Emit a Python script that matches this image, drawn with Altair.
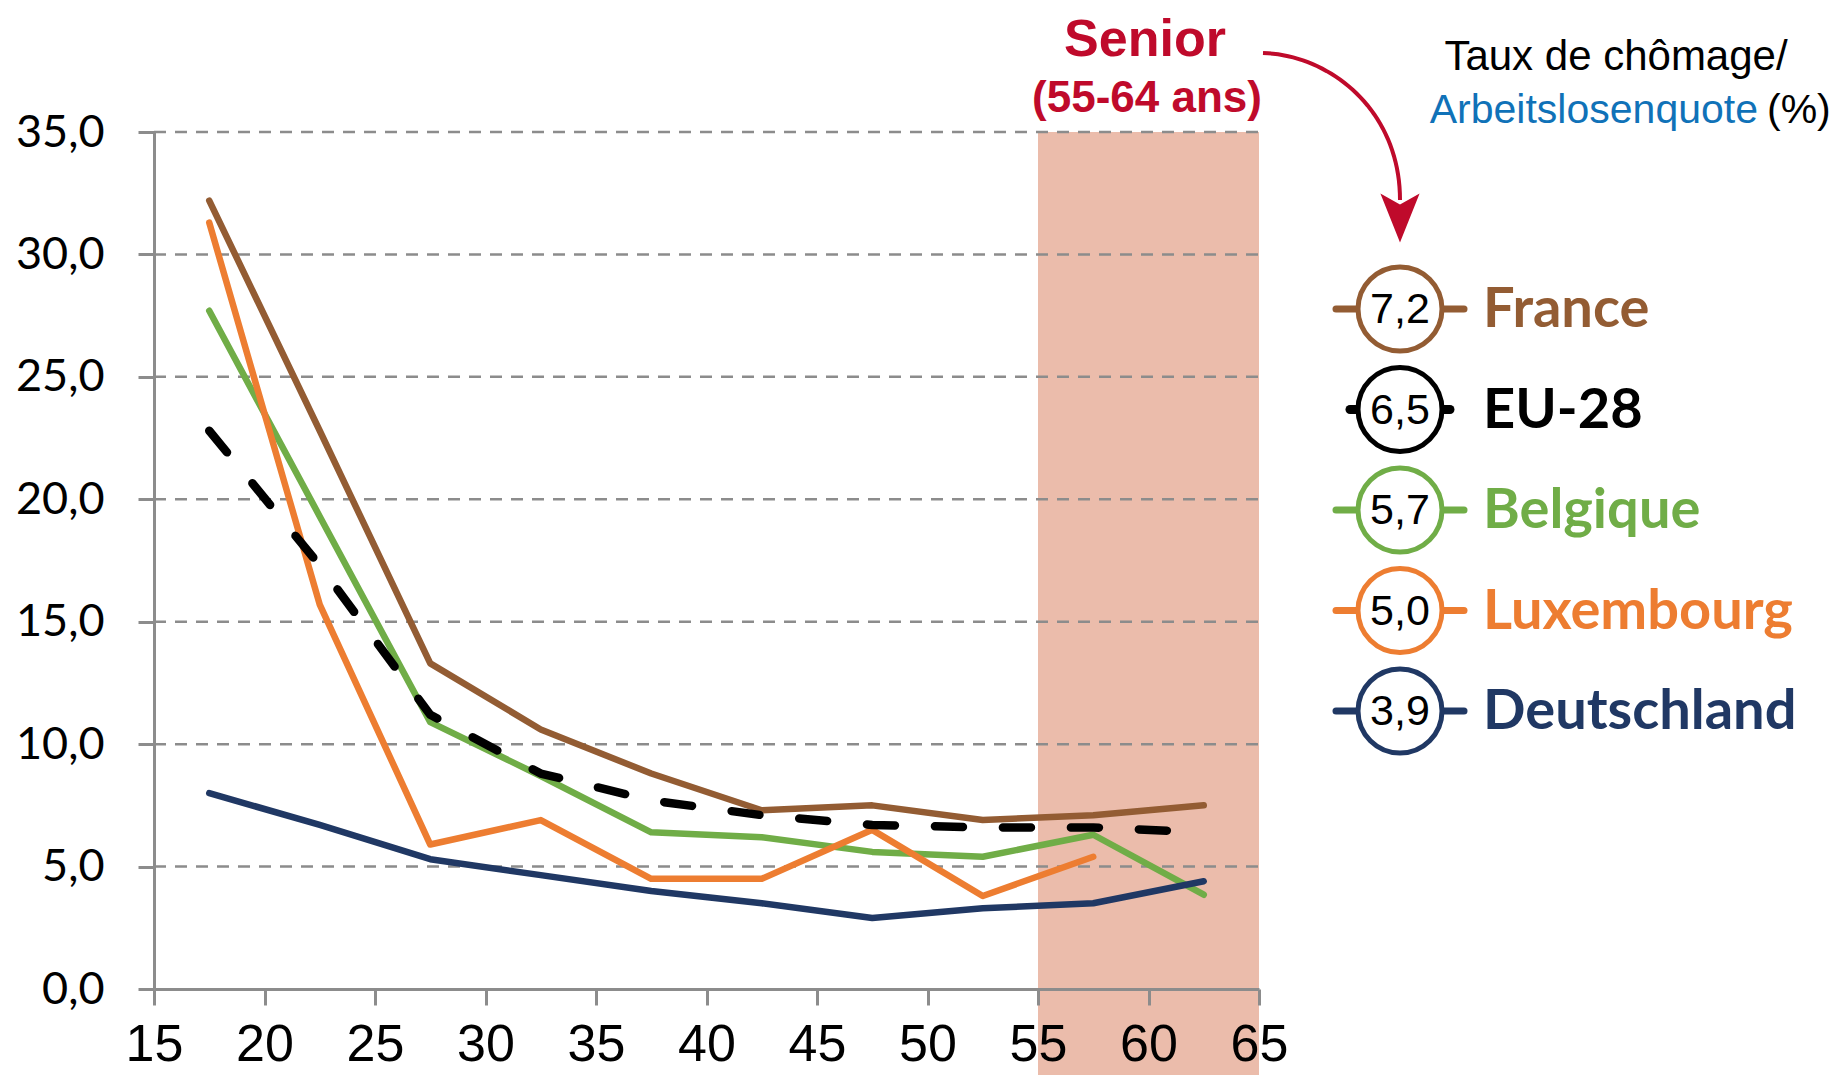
import altair as alt
import pandas as pd

# ---------------- data ----------------
ages = [17.5, 22.5, 27.5, 32.5, 37.5, 42.5, 47.5, 52.5, 57.5, 62.5]
france = [32.2, 22.8, 13.3, 10.6, 8.8, 7.3, 7.5, 6.9, 7.1, 7.5]
eu28 = [22.8, 17.3, 11.2, 8.8, 7.7, 7.1, 6.7, 6.6, 6.6, 6.4]
belgique = [27.7, 19.3, 10.9, 8.7, 6.4, 6.2, 5.6, 5.4, 6.3, 3.85]
luxembourg = [31.3, 15.7, 5.9, 6.9, 4.5, 4.5, 6.5, 3.8, 5.4, None]
deutschland = [8.0, 6.7, 5.3, 4.65, 4.0, 3.5, 2.9, 3.3, 3.5, 4.4]

series_names = ["France", "EU-28", "Belgique", "Luxembourg", "Deutschland"]
senior_values = ["7,2", "6,5", "5,7", "5,0", "3,9"]
series_colors = ["#935C33", "#000000", "#70AD47", "#ED7D31", "#203864"]

x_ticks = [15, 20, 25, 30, 35, 40, 45, 50, 55, 60, 65]
y_ticks = [0, 5, 10, 15, 20, 25, 30, 35]
grid_vals = [5, 10, 15, 20, 25, 30, 35]
senior_band = [55, 65]

# ---------------- layout constants ----------------
W, H = 1105, 857
XMIN, XMAX, YMIN, YMAX = 15, 65, 0, 35
SANS = "Liberation Sans, Arial, sans-serif"
RED = "#BF0A2B"
BLUE = "#1072B8"
GREY = "#8C8C8C"

xs = alt.Scale(domain=[XMIN, XMAX], nice=False, zero=False)
ys = alt.Scale(domain=[YMIN, YMAX], nice=False)

xa = alt.Axis(values=x_ticks, title=None, grid=False, labelFont=SANS, labelFontSize=52,
              labelColor="#000000", tickColor=GREY, tickWidth=3, tickSize=16,
              domainColor=GREY, domainWidth=3, labelPadding=14, labelFlush=False,
              labelOverlap=False, zindex=1)
ya = alt.Axis(values=y_ticks, title=None, grid=False, labelFont="Lato", labelFontSize=45,
              labelColor="#000000", tickColor=GREY, tickWidth=3, tickSize=16,
              domainColor=GREY, domainWidth=3, labelPadding=34, labelOverlap=False,
              labelExpr="replace(format(datum.value, '.1f'), '.', ',')", zindex=1)

# shaded senior band
band = alt.Chart(pd.DataFrame({"a": [senior_band[0]], "b": [senior_band[1]], "top": [YMAX]})).mark_rect(
    color="#EBBCAB", clip=False
).encode(
    x=alt.X("a:Q", scale=xs, axis=xa),
    x2="b:Q",
    y=alt.Y("top:Q", scale=ys, axis=ya),
    y2=alt.value(960),
)

# dashed grid lines
grid = alt.Chart(pd.DataFrame({"g": grid_vals, "x0": [XMIN] * len(grid_vals), "x1": [XMAX] * len(grid_vals)})).mark_rule(
    color=GREY, strokeWidth=2.5, strokeDash=[12, 9]
).encode(
    y=alt.Y("g:Q", scale=ys, axis=ya),
    x=alt.X("x0:Q", scale=xs, axis=xa),
    x2="x1:Q",
)

def line_layer(vals, color, dashed=False):
    df = pd.DataFrame({"age": ages, "v": vals}).dropna()
    kw = dict(color=color, strokeWidth=6.5, strokeCap="round", strokeJoin="round")
    if dashed:
        kw.update(strokeWidth=8.5, strokeDash=[28, 40])
    return alt.Chart(df).mark_line(**kw).encode(
        x=alt.X("age:Q", scale=xs, axis=xa),
        y=alt.Y("v:Q", scale=ys, axis=ya),
        order="age:Q",
    )

lines = [
    line_layer(france, series_colors[0]),
    line_layer(belgique, series_colors[2]),
    line_layer(luxembourg, series_colors[3]),
    line_layer(deutschland, series_colors[4]),
    line_layer(eu28, series_colors[1], dashed=True),
]

one = pd.DataFrame({"k": [0]})

# ---------------- legend (annotation) ----------------
CX = 1246
ROW0 = 177
ROWSTEP = 100.5
legend_layers = []
for i, (nm, val, col) in enumerate(zip(series_names, senior_values, series_colors)):
    ry = ROW0 + i * ROWSTEP
    if nm == "EU-28":
        stub = alt.Chart(one).mark_rule(color=col, strokeWidth=9, strokeCap="round").encode(
            x=alt.value(CX - 50), x2=alt.value(CX + 50), y=alt.value(ry))
    else:
        stub = alt.Chart(one).mark_rule(color=col, strokeWidth=7, strokeCap="round").encode(
            x=alt.value(CX - 64), x2=alt.value(CX + 64), y=alt.value(ry))
    circ = alt.Chart(one).mark_point(
        shape="circle", filled=True, fill="white", stroke=col, strokeWidth=5, size=7056, opacity=1
    ).encode(x=alt.value(CX), y=alt.value(ry))
    num = alt.Chart(one).mark_text(
        text=val, font=SANS, fontSize=43, color="#000000", align="center", baseline="alphabetic"
    ).encode(x=alt.value(CX), y=alt.value(ry + 14))
    lab = alt.Chart(one).mark_text(
        text=nm, font="Lato", fontWeight="bold", fontSize=56, color=col, align="left", baseline="alphabetic"
    ).encode(x=alt.value(CX + 83), y=alt.value(ry + 18))
    legend_layers += [stub, circ, num, lab]

# titles
def txt(t, x, y, **kw):
    return alt.Chart(one).mark_text(text=t, **kw).encode(x=alt.value(x), y=alt.value(y))

titles = [
    txt("Senior", 991, -76, font=SANS, fontWeight="bold", fontSize=52, color=RED,
        align="center", baseline="alphabetic"),
    txt("(55-64 ans)", 993, -20, font=SANS, fontWeight="bold", fontSize=44, color=RED,
        align="center", baseline="alphabetic"),
    txt("Taux de chômage/", 1462, -62, font=SANS, fontSize=42, color="#000000",
        align="center", baseline="alphabetic"),
    txt("Arbeitslosenquote", 1604, -9, font=SANS, fontSize=41, color=BLUE,
        align="right", baseline="alphabetic"),
    txt("(%)", 1613, -9, font=SANS, fontSize=41, color="#000000",
        align="left", baseline="alphabetic"),
]

# curved arrow (cubic Bezier through pixel control points, mapped to data units)
P = [(1109, -79), (1176, -77), (1246, -22), (1246, 68)]
ts = [i / 40 for i in range(41)]
bx = [(1 - t) ** 3 * P[0][0] + 3 * (1 - t) ** 2 * t * P[1][0] + 3 * (1 - t) * t ** 2 * P[2][0] + t ** 3 * P[3][0] for t in ts]
by = [(1 - t) ** 3 * P[0][1] + 3 * (1 - t) ** 2 * t * P[1][1] + 3 * (1 - t) * t ** 2 * P[2][1] + t ** 3 * P[3][1] for t in ts]
arrow_df = pd.DataFrame({
    "ax": [XMIN + px / W * (XMAX - XMIN) for px in bx],
    "ay": [YMAX - py / H * (YMAX - YMIN) for py in by],
    "t": ts,
})
arrow = alt.Chart(arrow_df).mark_line(color=RED, strokeWidth=4, clip=False).encode(
    x=alt.X("ax:Q", scale=xs, axis=xa),
    y=alt.Y("ay:Q", scale=ys, axis=ya),
    order="t:Q",
)
head = alt.Chart(one).mark_point(
    shape="M-0.8,-1L0,1L0.8,-1L0,-0.55Z", filled=True, color=RED, size=2401, opacity=1
).encode(x=alt.value(1246), y=alt.value(86))

chart = alt.layer(band, grid, *lines, *legend_layers, *titles, arrow, head).properties(
    width=W, height=H,
    autosize=alt.AutoSizeParams(type="none"),
    padding={"left": 146, "top": 124, "right": 574, "bottom": 86},
).configure_view(stroke=None)

chart.save("out.html", embed_options={"renderer": "svg", "actions": False})
